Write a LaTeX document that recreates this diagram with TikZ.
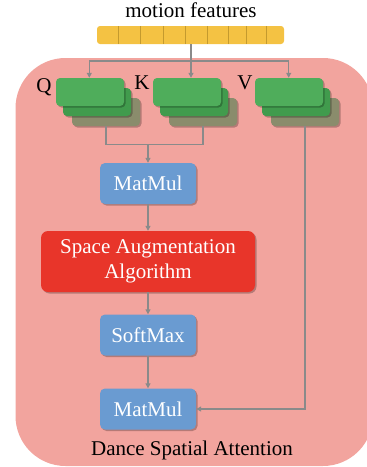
\documentclass[tikz,border=0pt]{standalone}
\usepackage{fontspec}
\setmainfont{Liberation Serif}
\usetikzlibrary{arrows.meta,shadows,calc}
\definecolor{pinkbg}{HTML}{F2A49E}
\definecolor{barY}{HTML}{F4C243}
\definecolor{barLine}{HTML}{C49A2E}
\definecolor{gA}{HTML}{4FAD5B}
\definecolor{gB}{HTML}{419B4D}
\definecolor{gC}{HTML}{8A8C6C}
\definecolor{blueB}{HTML}{6A9BD1}
\definecolor{redB}{HTML}{E8352A}
\definecolor{conn}{HTML}{8A8A8A}
\tikzset{
  txt/.style={font=\fontsize{21}{25}\selectfont},
  shd/.style={drop shadow={shadow xshift=1.5pt,shadow yshift=-1.5pt,opacity=0.25,fill=black}},
  greenbox/.style={draw=none,rounded corners=4pt,minimum width=68pt,minimum height=28pt,inner sep=0pt,shd},
  bluebox/.style={fill=blueB,rounded corners=5pt,minimum width=96pt,minimum height=41pt,inner sep=0pt,txt,text=white,shd},
  redbox/.style={fill=redB,rounded corners=7pt,minimum width=214pt,minimum height=61pt,inner sep=0pt,txt,text=white,align=center,shd},
  conline/.style={draw=conn,line width=1.2pt},
  arr/.style={conline,-{Triangle[length=5pt,width=5pt]}},
}
\begin{document}
\begin{tikzpicture}[x=1pt,y=-1pt]
\useasboundingbox (0,0) rectangle (367,467);
\begin{scope}
\clip (0,0) rectangle (367,467);
\fill[pinkbg,rounded corners=50pt] (15.5,58) rectangle (373,466);
\end{scope}
% motion features
\node[txt,anchor=base] (mf) at (191,17) {motion features};
\node[fill=barY,rounded corners=3pt,minimum width=187pt,minimum height=18pt,inner sep=0pt] (bar) at (190.5,35) {};
\foreach \xx in {118.3,140,163.3,185.7,207.7,228.3,246.7,266.7}
  \draw[barLine,line width=0.8pt] (\xx,26) -- (\xx,44);
% green stacks
\foreach \nm/\cx in {q/90,k/187,v/289}{
  \node[greenbox,fill=gC] (\nm3) at (\cx+16,112) {};
  \node[greenbox,fill=gB] (\nm2) at (\cx+7,102) {};
  \node[greenbox,fill=gA] (\nm1) at (\cx,92) {};
}
\node[txt,anchor=base] (ql) at (44,92.5) {Q};
\node[txt,anchor=base] (kl) at (142,89.5) {K};
\node[txt,anchor=base] (vl) at (245,89.5) {V};
% blue/red boxes
\node[bluebox] (mm1) at (148,183.5) {MatMul};
\node[redbox] (saa) at (148,261.5) {Space Augmentation\\Algorithm};
\node[bluebox] (sm) at (148,335) {SoftMax};
\node[bluebox] (mm2) at (148,409) {MatMul};
\node[txt,anchor=base] (title) at (192,455) {Dance Spatial Attention};
% connectors from bar
\coordinate (split) at (191,61);
\coordinate (sq) at (89.3,61);
\coordinate (sv) at (288.7,61);
\draw[conline] (bar.south -| split) -- (split);
\draw[conline] (sq) -- (sv);
\draw[arr] (sq) -- (sq |- q1.north);
\draw[arr] (split) -- (split |- k1.north);
\draw[arr] (sv) -- (sv |- v1.north);
% Q,K to MatMul
\coordinate (jq) at (q3.south |- 0,144.3);
\coordinate (jk) at (k3.south |- 0,144.3);
\draw[conline] (q3.south) -- (jq) -- (jk) -- (k3.south);
\draw[arr] (mm1.north |- jq) -- (mm1.north);
\draw[arr] (mm1) -- (saa);
\draw[arr] (saa) -- (sm);
\draw[arr] (sm) -- (mm2);
\draw[arr] (v3.south) |- (mm2.east);
\end{tikzpicture}
\end{document}
